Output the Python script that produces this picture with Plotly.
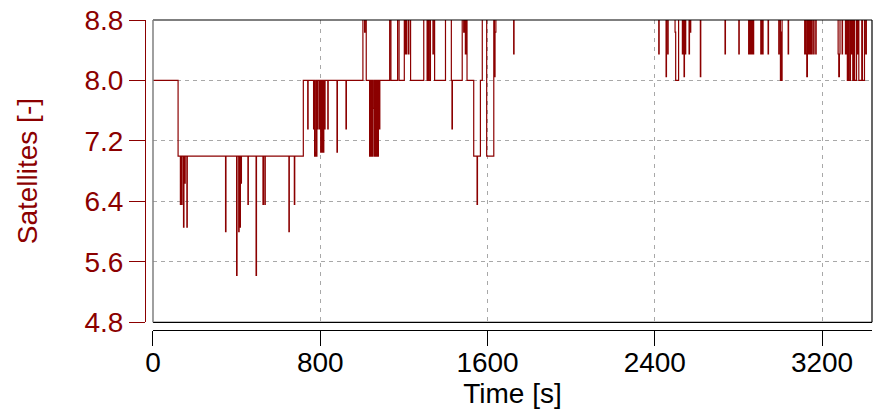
import plotly.graph_objects as go

# Change points of the satellite count: each line of time_s matches the same line of satellites
time_s = [
    0, 120,
    131, 133, 137, 139, 146, 148, 152, 154, 162, 164,
    347, 349, 400, 402, 410, 412, 416, 418, 421, 423, 454, 456,
    493, 495, 526, 528, 535, 537, 650, 652, 676, 678,
    719,
    740, 742, 768, 770, 773, 776, 779, 781, 784, 786, 788, 795, 797,
    802, 804, 806, 808, 810, 815, 817, 821, 823, 836, 838, 880, 882, 923, 925,
    1004, 1012, 1014, 1020,
    1036, 1039, 1041, 1043, 1046, 1050, 1053, 1056, 1060, 1063,
    1066, 1068, 1071, 1075, 1078, 1082, 1085,
    1132, 1138, 1170, 1177,
    1202, 1206, 1208, 1212, 1214, 1222, 1224, 1232,
    1295, 1311, 1316, 1321, 1327, 1339, 1341, 1347,
    1399, 1427, 1430, 1432, 1479, 1486, 1489, 1494, 1497, 1502,
    1534, 1550, 1552, 1566, 1575, 1596, 1627, 1630, 1633, 1636, 1640,
    1725, 1727,
    2419, 2421, 2454, 2456, 2462, 2464,
    2497, 2500, 2514,
    2532, 2535, 2540, 2542, 2546, 2548, 2564, 2566, 2570, 2572,
    2618, 2620, 2736, 2738, 2802, 2804,
    2849, 2852, 2855, 2858, 2862, 2866, 2870, 2873,
    2907, 2909, 2914, 2918, 2942, 2944,
    2993, 2995, 3001, 3003, 3007, 3009, 3038, 3040,
    3117, 3119, 3124, 3127, 3130, 3135, 3137, 3142, 3145, 3150, 3153,
    3160, 3162, 3170, 3172,
    3277, 3280, 3283, 3286, 3296, 3298,
    3312, 3316, 3321, 3326, 3330, 3336, 3340, 3343, 3347, 3352, 3356,
    3365, 3370, 3373, 3376, 3390, 3393, 3403, 3409, 3412, 3418,
]
satellites = [
    8, 7,
    6.36, 7, 6.36, 7, 6.06, 7, 6.64, 7, 6.06, 7,
    6.0, 7, 5.42, 7, 6.0, 7, 6.06, 7, 6.64, 7, 6.36, 7,
    5.42, 7, 6.36, 7, 6.36, 7, 6.0, 7, 6.36, 7,
    8,
    7.36, 8, 7.36, 8, 7.0, 7.05, 8, 7.0, 8, 7.36, 8, 7.36, 8,
    7.05, 7.36, 8, 7.05, 8, 7.05, 8, 7.36, 8, 7.36, 8, 7.05, 8, 7.36, 8,
    9, 8.64, 9, 8,
    7.0, 8, 7.63, 7.0, 8, 7.0, 7.63, 8, 7.0, 8,
    7.63, 7.0, 8, 7.0, 8, 7.36, 8,
    9, 8, 9, 8,
    9, 8.35, 9, 8.35, 9, 8.35, 9, 8,
    9, 8, 9, 8, 9, 8.35, 9, 8,
    9, 8, 7.36, 8, 9, 8.64, 9, 8.35, 9, 8,
    7, 6.36, 7, 8, 9, 7, 7, 9, 8.05, 8.64, 9,
    8.35, 9,
    8.35, 9, 8.05, 9, 8.35, 9,
    8.64, 8, 9,
    8.35, 9, 8.05, 9, 8.35, 9, 8.35, 9, 8.64, 9,
    8.05, 9, 8.35, 9, 8.35, 9,
    8.35, 9, 8.35, 9, 8.35, 9, 8.35, 9,
    8.35, 9, 8.35, 9, 8.35, 9,
    8.35, 9, 8.0, 8.64, 8.0, 9, 8.35, 9,
    8.35, 9, 8.35, 8.05, 9, 8.35, 9, 8.35, 9, 8.35, 9,
    8.35, 9, 8.35, 9,
    8.35, 8.05, 8.35, 9, 8.35, 9,
    8.35, 9, 8, 9, 8, 9, 8.35, 9, 8, 9, 8,
    9, 8.35, 9, 8, 9, 8, 9, 8.35, 9, 9,
]
assert len(time_s) == len(satellites)

x_ticks = [0, 800, 1600, 2400, 3200]
y_ticks = [4.8, 5.6, 6.4, 7.2, 8.0, 8.8]
y_ticktext = ["4.8", "5.6", "6.4", "7.2", "8.0", "8.8"]

RED = "#8B0000"
FONT = "Liberation Sans, Arial, sans-serif"

fig = go.Figure()
fig.add_trace(go.Scatter(
    x=time_s, y=satellites, mode="lines",
    line=dict(color=RED, width=1.2, shape="hv"),
    showlegend=False, hoverinfo="skip",
))

fig.update_layout(
    width=874, height=417,
    margin=dict(l=145, r=2, t=20, b=87),
    paper_bgcolor="white", plot_bgcolor="white",
    font=dict(family=FONT, size=28, color="black"),
    xaxis=dict(
        domain=[0.011, 1], anchor="free", position=0, automargin=False,
        range=[0, 3439], tickvals=x_ticks,
        ticks="outside", ticklen=15, tickwidth=1, tickcolor="black",
        ticklabelstandoff=-8,
        showline=True, linecolor="black", linewidth=1,
        showgrid=True, gridcolor="#a8a8a8", gridwidth=1, griddash="4px,5px",
        zeroline=False,
        tickfont=dict(size=28, color="black"),
        title=dict(text="Time [s]", font=dict(size=28, color="black"), standoff=4),
    ),
    yaxis=dict(
        domain=[0.0248, 1], anchor="free", position=0, automargin=False,
        range=[4.8, 8.8], tickvals=y_ticks, ticktext=y_ticktext,
        ticks="outside", ticklen=16, tickwidth=1, tickcolor=RED,
        showline=True, linecolor=RED, linewidth=1,
        showgrid=True, gridcolor="#a8a8a8", gridwidth=1, griddash="4px,4px",
        zeroline=False,
        tickfont=dict(size=28, color=RED),
        title=dict(text="Satellites [-]", font=dict(size=28, color=RED), standoff=37),
    ),
    shapes=[
        dict(type="line", xref="x domain", yref="y domain", x0=0, x1=1, y0=1, y1=1,
             line=dict(color="black", width=1.2)),
        dict(type="line", xref="x domain", yref="y domain", x0=1, x1=1, y0=0, y1=1,
             line=dict(color="black", width=1.2)),
        dict(type="line", xref="x domain", yref="y domain", x0=0, x1=1, y0=0, y1=0,
             line=dict(color="black", width=1.2)),
        dict(type="line", xref="x domain", yref="y domain", x0=0, x1=0, y0=0, y1=1,
             line=dict(color="#808080", width=1.5)),
    ],
)

fig.write_html(
    "out.html",
    config={"displayModeBar": False},
    post_script="document.body.style.margin='0px';document.body.style.overflow='hidden';",
)
